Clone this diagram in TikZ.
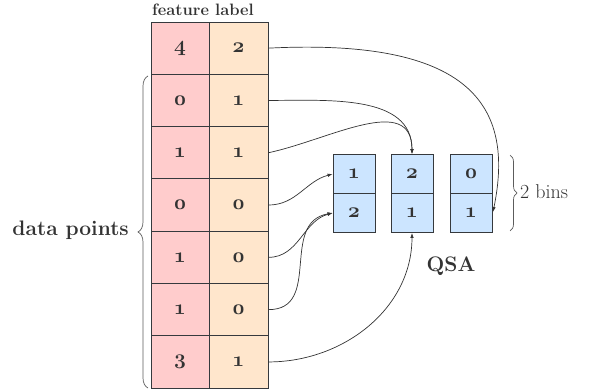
\documentclass[tikz,border=0pt]{standalone}
\usepackage{fontspec}
\setmainfont{Latin Modern Roman}[Numbers=OldStyle]
\usetikzlibrary{arrows.meta,decorations.pathreplacing}
\definecolor{pinkc}{HTML}{FFCCCC}
\definecolor{peachc}{HTML}{FFE6CC}
\definecolor{bluec}{HTML}{CCE5FF}
\definecolor{edgec}{HTML}{36393D}
\definecolor{txtc}{HTML}{333333}
\begin{document}
\begin{tikzpicture}[x=1pt,y=-1pt,
  cell/.style={draw=edgec,line width=0.8pt,inner sep=0pt,text=txtc,
    font=\fontsize{21}{21}\selectfont\bfseries},
  fcell/.style={cell,fill=pinkc,minimum width=58pt,minimum height=52.3pt},
  lcell/.style={cell,fill=peachc,minimum width=59pt,minimum height=52.3pt},
  qcell/.style={cell,fill=bluec,minimum width=42pt,minimum height=39pt},
  link/.style={draw=txtc,line width=0.7pt,-{Latex[length=5pt,width=3.5pt]}},
  bracec/.style={draw=txtc!80,line width=0.7pt,decorate},
  lbl/.style={text=txtc,inner sep=0pt}]
\useasboundingbox (0,0) rectangle (590,390);
% table
\foreach \i/\f/\l in {0/4/2,1/0/1,2/1/1,3/0/0,4/1/0,5/1/0,6/3/1}{
  \node[fcell] (f\i) at (180,{22+52.3*(\i+0.5)}) {\f};
  \node[lcell] (l\i) at (238.5,{22+52.3*(\i+0.5)}) {\l};
}
\node[lbl,font=\fontsize{16.5}{16.5}\selectfont\bfseries] (hdr) at (203,10) {feature label};
% QSA bins
\node[qcell] (q1a) at (354,174) {1};
\node[qcell] (q1b) at (354,213) {2};
\node[qcell] (q2a) at (412,174) {2};
\node[qcell] (q2b) at (412,213) {1};
\node[qcell] (q3a) at (471,174) {0};
\node[qcell] (q3b) at (471,213) {1};
\node[lbl,font=\fontsize{21}{21}\selectfont\bfseries] (qsa) at (451,266) {QSA};
% braces
\draw[bracec,decoration={brace,amplitude=10pt}] (148,388) -- (148,76);
\node[lbl,anchor=east,font=\fontsize{21}{21}\selectfont\bfseries] (dp) at (129,230) {data points};
\draw[bracec,decoration={brace,amplitude=7pt}] (510,155) -- (510,231);
\node[lbl,anchor=west,font=\fontsize{20}{20}\selectfont\addfontfeatures{Numbers=Lining}] (bins) at (520,192) {2 bins};
% connectors
\coordinate (e0) at (493,212);
\coordinate (c0a) at (470,38);
\coordinate (c0b) at (515,105);
\draw[link] (l0.east) .. controls (c0a) and (c0b) .. (e0);
\draw[link] (l1.east) to[out=0,in=90] (q2a.north);
\draw[link] (l2.east) to[out=12,in=90,looseness=1.1] (q2a.north);
\draw[link] (l3.east) to[out=0,in=195] (q1a.west);
\draw[link] (l4.east) to[out=0,in=195] (q1b.west);
\draw[link] (l5.east) to[out=0,in=190,looseness=1.2] (q1b.west);
\draw[link] (l6.east) to[out=0,in=-90] (q2b.south);
\end{tikzpicture}
\end{document}
